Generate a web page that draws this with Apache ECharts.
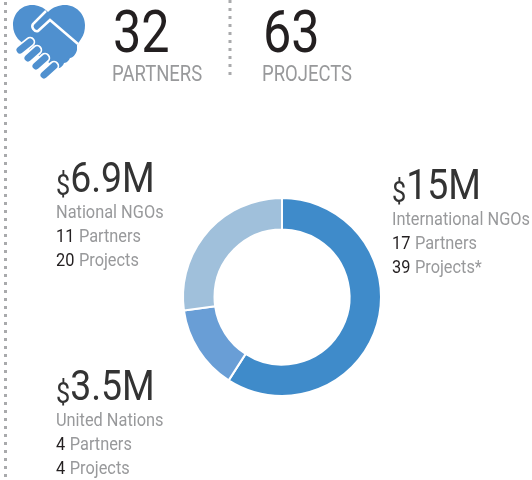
<!DOCTYPE html>
<html>
<head>
<meta charset="utf-8" />
<title>Partners and projects</title>
<script src="https://cdn.jsdelivr.net/npm/echarts@6/dist/echarts.min.js"></script>
<style>
  html, body { margin: 0; height: 100%; background: #fff; }
  #container { width: 532px; height: 480px; }
</style>
</head>
<body>
<div id="container"></div>
<script>
var partnerTotal = '32';
var projectTotal = '63';
var totalLabels = ['PARTNERS', 'PROJECTS'];

var groups = ['International NGOs', 'United Nations', 'National NGOs'];
var amounts = [15, 3.5, 6.9];
var amountLabels = ['15M', '3.5M', '6.9M'];
var partners = ['17', '4', '11'];
var projects = ['39', '4', '20'];
var projectSuffix = ['*', '', ''];
var colors = ['#3f8bca', '#699ed6', '#a0c0db'];

var DARK = '#231f20', GREY = '#98999b', FONT = 'Roboto', NARROW = 0.84, BLUE = '#4f90cf';

function text(x, y, str, size, color, narrow) {
    return {
        type: 'text', x: x, y: y, scaleX: narrow || NARROW, silent: true,
        style: { text: str, fontFamily: FONT, fontSize: size, fill: color, textVerticalAlign: 'middle' }
    };
}

// money + name + partners + projects block for one ring segment
function block(i, x, y) {
    var small = {
        n: { fontFamily: FONT, fontSize: 19, fill: DARK },
        l: { fontFamily: FONT, fontSize: 19, fill: GREY, padding: [0, 0, 0, 2] }
    };
    return [
        {
            type: 'text', x: x, y: y + 3, scaleX: 0.87, silent: true,
            style: {
                text: '{d|$}{a|' + amountLabels[i] + '}',
                rich: {
                    d: { fontFamily: FONT, fontSize: 29, fill: '#333', verticalAlign: 'bottom' },
                    a: { fontFamily: FONT, fontSize: 43, fill: '#333' }
                },
                textVerticalAlign: 'middle'
            }
        },
        text(x, y + 35, groups[i], 19, GREY, 0.86),
        {
            type: 'text', x: x, y: y + 59, scaleX: 0.86, silent: true,
            style: { text: '{n|' + partners[i] + '} {l|Partners}', rich: small, textVerticalAlign: 'middle' }
        },
        {
            type: 'text', x: x, y: y + 83, scaleX: 0.86, silent: true,
            style: { text: '{n|' + projects[i] + '} {l|Projects' + projectSuffix[i] + '}', rich: small, textVerticalAlign: 'middle' }
        }
    ];
}

function dotted(x, y1, y2) {
    return {
        type: 'line', silent: true,
        shape: { x1: x, y1: y1, x2: x, y2: y2 },
        style: { stroke: '#a9aaac', lineWidth: 3, lineDash: [3, 5] }
    };
}

// the graphic component has no plain path type, so the icon outlines are registered as shapes
echarts.graphic.registerShape('heartBody', echarts.graphic.extendPath(
    'M48,12 C43,7 38,5 32,5 C21,5 13,14 13,25 C13,31 15,35 18,39 L30,50 L57,68 C60,69 63,66 64,63 C67,63 69,60 70,58 C73,58 76,54 77,50 L77,45 L81,39 C84,35 85,30 85,25 C85,14 76,5 65,5 C59,5 53,7 48,12 Z', {}));
echarts.graphic.registerShape('heartHook', echarts.graphic.extendPath(
    'M46,11 L33,24 C31,27 34,32 38,31 L50,20 L78,44', {}));

function handshake() {
    var fingers = [[20, 50, 30, 42], [28, 58, 37, 50], [36, 66, 45, 58], [44, 75, 54, 66]];
    var out = [{ type: 'heartBody', silent: true, style: { fill: BLUE } }];
    fingers.forEach(function (f) {
        out.push({ type: 'line', silent: true, shape: { x1: f[0], y1: f[1], x2: f[2], y2: f[3] }, style: { stroke: '#fff', lineWidth: 10.5, lineCap: 'round' } });
    });
    fingers.forEach(function (f) {
        out.push({ type: 'line', silent: true, shape: { x1: f[0], y1: f[1], x2: f[2], y2: f[3] }, style: { stroke: BLUE, lineWidth: 7, lineCap: 'round' } });
    });
    out.push({ type: 'heartHook', silent: true, style: { fill: 'none', stroke: '#fff', lineWidth: 2.5 } });
    return out;
}

var myChart = echarts.init(document.getElementById('container'));
var option = {
    animation: false,
    series: [{
        type: 'pie',
        center: [282, 297],
        radius: [67.5, 99],
        startAngle: 90,
        label: { show: false },
        labelLine: { show: false },
        silent: true,
        itemStyle: { borderColor: '#fff', borderWidth: 2 },
        data: groups.map(function (g, i) {
            return { name: g, value: amounts[i], itemStyle: { color: colors[i] } };
        })
    }],
    graphic: [
        dotted(5.5, 2, 480),
        dotted(230, 0, 78),
        text(113, 37, partnerTotal, 60, DARK),
        text(263, 37, projectTotal, 60, DARK),
        text(112, 75, totalLabels[0], 22, GREY),
        text(262, 75, totalLabels[1], 22, GREY)
    ].concat(handshake(), block(0, 392, 185), block(2, 56, 178), block(1, 56, 386))
};
myChart.setOption(option);
</script>
</body>
</html>
